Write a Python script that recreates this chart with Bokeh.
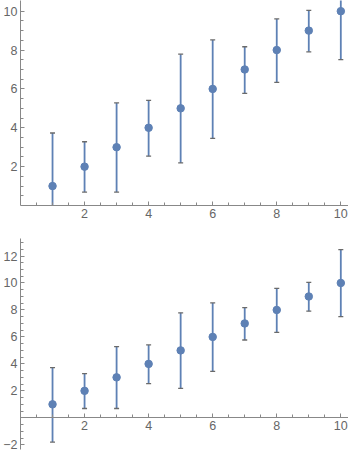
from bokeh.plotting import figure
from bokeh.layouts import column
from bokeh.models import FixedTicker, Range1d, ColumnDataSource
from bokeh.embed import file_html
from bokeh.resources import INLINE
import numpy as np

x = [1, 2, 3, 4, 5, 6, 7, 8, 9, 10]
y = [1, 2, 3, 4, 5, 6, 7, 8, 9, 10]
upper = [3.73, 3.28, 5.28, 5.41, 7.79, 8.52, 8.17, 9.6, 10.04, 12.47]
lower = [-1.8, 0.69, 0.69, 2.54, 2.19, 3.45, 5.77, 6.34, 7.91, 7.51]

x_ticks = [2, 4, 6, 8, 10]
top_y_ticks = [2, 4, 6, 8, 10]
bottom_y_ticks = [-2, 2, 4, 6, 8, 10, 12]

BLUE = "#5E81B5"
CAP = "#6a6a6a"
AXIS = "#888888"
LABEL = "#666666"


def style(p, xt, yt, xminor, yminor):
    p.xgrid.visible = False
    p.ygrid.visible = False
    p.outline_line_color = None
    p.background_fill_color = "white"
    p.border_fill_color = "white"
    p.xaxis.ticker = FixedTicker(ticks=xt, minor_ticks=xminor)
    p.yaxis.ticker = FixedTicker(ticks=yt, minor_ticks=yminor)
    for ax in (p.xaxis, p.yaxis):
        ax.axis_line_color = AXIS
        ax.major_tick_line_color = AXIS
        ax.minor_tick_line_color = AXIS
        ax.major_tick_in = 4
        ax.major_tick_out = 0
        ax.minor_tick_in = 3
        ax.minor_tick_out = 0
        ax.major_label_text_color = LABEL
        ax.major_label_text_font = "Liberation Sans"
        ax.major_label_text_font_size = "12.5px"
        ax.major_label_standoff = 3


def draw(p, src):
    p.segment(x0="x", y0="lower", x1="x", y1="upper", source=src,
              line_color=BLUE, line_width=1.8)
    p.scatter(x="x", y="upper", source=src, marker="dash", size=5,
              line_color=CAP, line_width=1.3)
    p.scatter(x="x", y="lower", source=src, marker="dash", size=5,
              line_color=CAP, line_width=1.3)
    p.scatter(x="x", y="y", source=src, marker="circle", size=7.5,
              fill_color=BLUE, line_color=BLUE)


src = ColumnDataSource(dict(x=x, y=y, upper=upper, lower=lower))

xminor = list(np.arange(0.5, 10.5, 0.5))

p1 = figure(frame_width=328, frame_height=205, output_backend="svg",
            toolbar_location=None,
            x_range=Range1d(0, 10.24), y_range=Range1d(0, 10.55),
            min_border_left=16, min_border_right=0, min_border_top=0,
            min_border_bottom=20)
style(p1, x_ticks, top_y_ticks, xminor, list(np.arange(0.5, 10.5, 0.5)))
draw(p1, src)

p2 = figure(frame_width=328, frame_height=211, output_backend="svg",
            toolbar_location=None,
            x_range=Range1d(0, 10.24), y_range=Range1d(-2.35, 13.3),
            min_border_left=16, min_border_right=0, min_border_top=13,
            min_border_bottom=4)
style(p2, x_ticks, bottom_y_ticks, xminor, list(np.arange(-2.0, 13.5, 0.5)))
p2.xaxis.fixed_location = 0
draw(p2, src)

layout = column(p1, p2, spacing=0)
open("out.html", "w").write(file_html(layout, INLINE))
